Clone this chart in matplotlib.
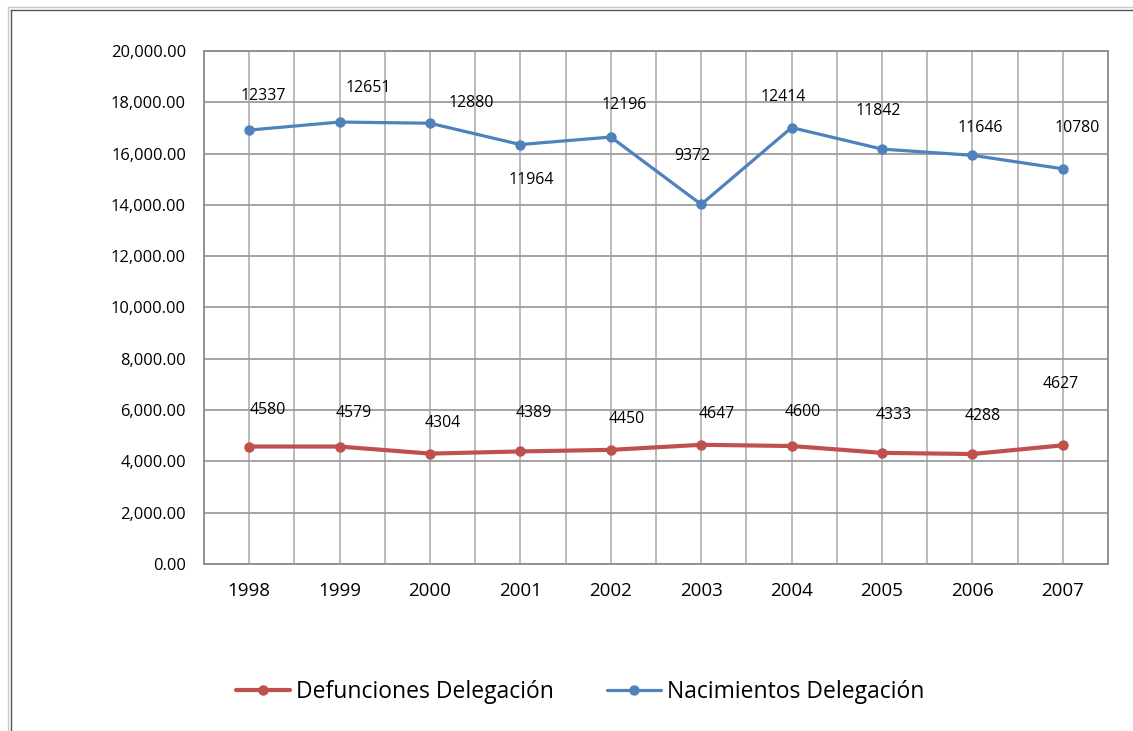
import numpy as np
import matplotlib
matplotlib.use("Agg")
import matplotlib.pyplot as plt
from matplotlib.lines import Line2D
from matplotlib.ticker import FuncFormatter, MultipleLocator

plt.rcParams['font.family'] = ['Open Sans', 'DejaVu Sans']

# data
years = ['1998', '1999', '2000', '2001', '2002', '2003', '2004', '2005', '2006', '2007']
defunciones = [4580, 4579, 4304, 4389, 4450, 4647, 4600, 4333, 4288, 4627]
nacimientos = [12337, 12651, 12880, 11964, 12196, 9372, 12414, 11842, 11646, 10780]

# label offsets in pixels (dx, dy) as placed in the original chart
def_offsets = [(19, 37), (14, 34), (13, 31), (13, 38), (16, 31),
               (15, 31), (11, 34), (12, 38), (10, 38), (-2, 61)]
nac_offsets = [(14, 34), (29, 34), (41, 20), (11, -35), (13, 32),
               (-9, 48), (-8, 31), (-4, 38), (8, 27), (14, 41)]

RED = '#C0504D'
BLUE = '#4F81BD'

W, H = 1133, 731
fig = plt.figure(figsize=(W / 100, H / 100), dpi=100)
ax = fig.add_axes([204 / W, 167 / H, 904 / W, 513 / H])

x = np.arange(len(years))
d = np.array(defunciones)
# stacked line chart: births drawn on top of deaths
n_stacked = d + np.array(nacimientos)

ax.plot(x, d, color=RED, lw=3.0, marker='o', ms=6.5, label='Defunciones Delegación',
        solid_capstyle='round', zorder=3)
ax.plot(x, n_stacked, color=BLUE, lw=2.3, marker='o', ms=6.5, label='Nacimientos Delegación',
        solid_capstyle='round', zorder=3)

for i in range(len(x)):
    dx, dy = def_offsets[i]
    ax.annotate(str(defunciones[i]), (x[i], d[i]), xytext=(dx, dy),
                textcoords='offset pixels', ha='center', va='center', fontsize=11.4)
    dx, dy = nac_offsets[i]
    ax.annotate(str(nacimientos[i]), (x[i], n_stacked[i]), xytext=(dx, dy),
                textcoords='offset pixels', ha='center', va='center', fontsize=11.4)

ax.set_xlim(-0.5, len(years) - 0.5)
ax.set_ylim(0, 20000)
ax.yaxis.set_major_locator(MultipleLocator(2000))
ax.yaxis.set_major_formatter(FuncFormatter(lambda v, p: f"{v:,.2f}"))
ax.set_xticks(x)
ax.set_xticklabels(years)
ax.set_xticks(np.arange(-0.5, len(years), 1.0), minor=True)
ax.tick_params(axis='both', which='both', length=0, colors='black')
ax.tick_params(axis='y', pad=13, labelsize=11.9)
ax.tick_params(axis='x', pad=13, labelsize=13.5)

ax.grid(True, which='both', axis='x', color='#b4b4b4', lw=1.3)
ax.grid(True, which='major', axis='y', color='#9c9c9c', lw=1.3)
ax.set_axisbelow(True)
for s in ax.spines.values():
    s.set_color('#8c8c8c')
    s.set_linewidth(1.3)

fig.legend(loc='center', bbox_to_anchor=(580 / W, 39 / H), ncol=2, frameon=False,
           fontsize=16.5, handlelength=2.36, handletextpad=0.26, columnspacing=2.3)

# outer chart frame
def px_line(x0, y0, x1, y1, color, lw):
    fig.add_artist(Line2D([x0 / W, x1 / W], [1 - y0 / H, 1 - y1 / H],
                          color=color, lw=lw, transform=fig.transFigure))

px_line(9, 7, W, 7, '#c8c8c8', 1.0)
px_line(8, 7, 8, H, '#c8c8c8', 1.0)
px_line(11, 10, W, 10, '#555555', 1.0)
px_line(11, 10, 11, H, '#555555', 1.0)

fig.savefig('out.png', dpi=100, facecolor='white')
